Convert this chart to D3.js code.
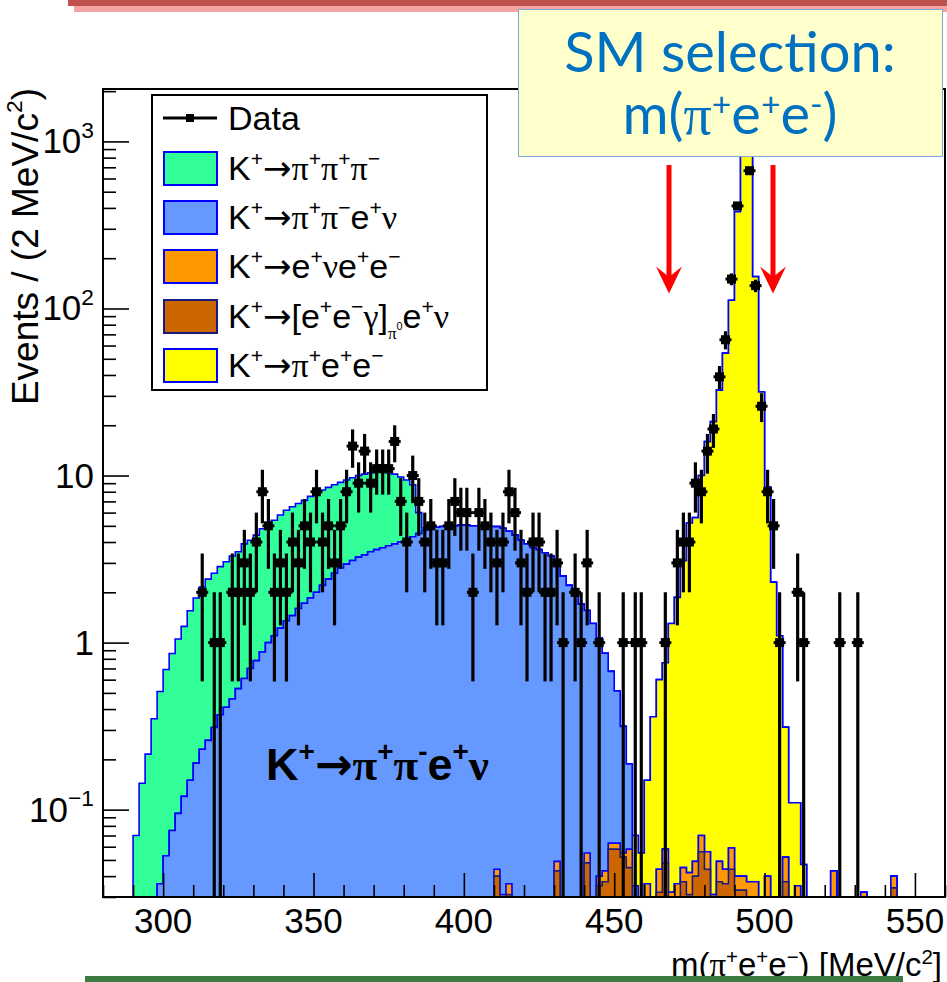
<!DOCTYPE html>
<html>
<head>
<meta charset="utf-8">
<script src="https://cdn.jsdelivr.net/npm/d3@7/dist/d3.min.js"></script>
<style>
html,body{margin:0;padding:0;background:#ffffff;}
svg{display:block;}
</style>
</head>
<body>
<svg id="chart" width="947" height="982" xmlns="http://www.w3.org/2000/svg"></svg>
<script>
// ------------------------------------------------------------------
// DATA  (140 bins of 2 MeV/c^2 from 280 to 560 MeV/c^2)
// ------------------------------------------------------------------
const binLowEdges = d3.range(280, 560, 2);

const dataCounts = [
  0,0,0,0,0,0,0,0,0,0,
  0,0,0,0,0,0,2,0,1,1,
  0,2,2,3,2,4,8,5,2,3,
  2,4,3,5,4,8,4,5,3,5,
  8,15,9,14,9,11,11,11,16,7,
  4,10,7,4,5,3,3,5,7,6,
  6,2,6,5,4,3,4,8,6,3,
  2,4,4,2,2,3,1,0,2,1,
  3,0,1,0,0,0,1,0,1,1,
  0,0,0,1,0,3,4,4,9,8,
  14,19,39,65,150,411,1500,668,137,26,
  8,5,1,0,0,2,1,0,0,0,
  0,0,1,0,0,1,0,0,0,0,
  0,0,0,0,0,0,0,0,0,0
];

// K+ -> pi+ pi+ pi-
const k3pi = [
  0,0,0,0,0,0.07,0.144,0.215,0.35,0.474,
  0.637,0.785,0.955,1.13,1.40,1.66,1.92,2.14,2.29,2.48,
  2.64,2.84,2.97,3.29,3.40,3.62,3.92,4.10,4.30,4.58,
  4.85,5.05,5.20,5.38,5.65,5.80,6.00,6.10,6.20,6.30,
  6.45,6.60,6.75,6.85,6.90,6.90,6.80,6.60,6.30,5.80,
  5.25,4.50,1.50,0.15,0,0,0,0,0,0,
  0,0,0,0,0,0,0,0,0,0,
  0,0,0,0,0,0,0,0,0,0,
  0,0,0,0,0,0,0,0,0,0,
  0,0,0,0,0,0,0,0,0,0,
  0,0,0,0,0,0,0,0,0,0,
  0,0,0,0,0,0,0,0,0,0,
  0,0,0,0,0,0,0,0,0,0,
  0,0,0,0,0,0,0,0,0,0
];

// K+ -> pi+ pi- e+ nu
const ke4 = [
  0,0,0,0,0,0,0,0,0,0.036,
  0.053,0.075,0.095,0.12,0.15,0.19,0.23,0.26,0.31,0.37,
  0.41,0.46,0.53,0.61,0.70,0.78,0.88,1.00,1.10,1.22,
  1.35,1.45,1.60,1.72,1.85,2.00,2.20,2.40,2.60,2.80,
  2.95,3.10,3.25,3.35,3.50,3.60,3.70,3.80,3.90,4.00,
  4.15,4.30,4.50,4.70,4.80,4.90,4.95,5.00,5.00,5.05,
  5.05,5.00,5.00,5.00,4.95,4.90,4.80,4.60,4.40,4.10,
  3.90,3.70,3.60,3.45,3.30,3.00,2.50,2.20,1.90,1.70,
  1.50,1.30,1.03,0.82,0.61,0.45,0.26,0.13,0.035,0,
  0,0,0,0,0,0,0,0,0,0,
  0,0,0,0,0,0,0,0,0,0,
  0,0,0,0,0,0,0,0,0,0,
  0,0,0,0,0,0,0,0,0,0,
  0,0,0,0,0,0,0,0,0,0
];

// K+ -> e+ nu e+ e-
const kenuee = [
  0,0,0,0,0,0,0,0,0,0,
  0,0,0,0,0,0,0,0,0,0,
  0,0,0,0,0,0,0,0,0,0,
  0,0,0,0,0,0,0,0,0,0,
  0,0,0,0,0,0,0,0,0,0,
  0,0,0,0,0,0,0,0,0,0,
  0,0,0,0,0,0.004,0.031,0.005,0,0,
  0,0,0,0,0,0.006,0,0,0,0,
  0.007,0,0.005,0.006,0.005,0.005,0.003,0.013,0,0,
  0.036,0,0.012,0.010,0.032,0.006,0.008,0.011,0.009,0.014,
  0.012,0.031,0.012,0.008,0.015,0.007,0.007,0.037,0.037,0,
  0.010,0,0,0.015,0,0.035,0,0,0,0,
  0,0.043,0,0,0,0,0.032,0,0,0,
  0,0.006,0,0,0,0,0,0,0,0
];

// K+ -> [e+ e- gamma]_pi0 e+ nu
const kpi0d = [
  0,0,0,0,0,0,0,0,0,0,
  0,0,0,0,0,0,0,0,0,0,
  0,0,0,0,0,0,0,0,0,0,
  0,0,0,0,0,0,0,0,0,0,
  0,0,0,0,0,0,0,0,0,0,
  0,0,0,0,0,0,0,0,0,0,
  0,0,0,0,0,0.040,0,0.031,0,0,
  0,0,0,0,0,0.043,0,0,0,0,
  0.048,0,0.035,0.037,0.058,0.058,0.052,0.045,0,0,
  0,0,0.032,0.048,0,0.030,0.037,0.031,0.040,0.056,
  0.044,0,0.037,0.036,0.044,0.033,0.033,0,0,0,
  0.030,0,0,0.037,0,0,0,0,0,0,
  0,0,0,0,0,0,0,0,0,0,
  0,0.034,0,0,0,0,0,0,0,0
];

// K+ -> pi+ e+ e-
const kpiee = [
  0,0,0,0,0,0,0,0,0,0,
  0,0,0,0,0,0,0,0,0,0,
  0,0,0,0,0,0,0,0,0,0,
  0,0,0,0,0,0,0,0,0,0,
  0,0,0,0,0,0,0,0,0,0,
  0,0,0,0,0,0,0,0,0,0,
  0,0,0,0,0,0,0,0,0,0,
  0,0,0,0,0,0,0,0,0,0,
  0,0,0,0,0,0,0,0,0.035,0.055,
  0.114,0.36,0.556,0.70,1.27,1.83,3.05,5.16,5.55,9.93,
  15.9,21.0,32.4,54.0,112,380,2500,1000,155,31.6,
  8.5,2.3,1.1,0.26,0.11,0.075,0.047,0,0,0,
  0,0,0,0,0,0,0,0,0,0,
  0,0,0,0,0,0,0,0,0,0
];

const xTickValues = [300, 350, 400, 450, 500, 550];
const yTickLabels = [
  {v: 0.1,  base: "10", exp: "\u22121"},
  {v: 1,    base: "1",  exp: ""},
  {v: 10,   base: "10", exp: ""},
  {v: 100,  base: "10", exp: "2"},
  {v: 1000, base: "10", exp: "3"}
];

// ------------------------------------------------------------------
// LAYOUT / SCALES
// ------------------------------------------------------------------
const svg = d3.select("#chart");
const L = 103, R = 945, T = 89, B = 897;
const x = d3.scaleLinear().domain([280, 560]).range([L, R]);
const y = d3.scaleLog().domain([0.03, 2060]).range([B, T]);
const yMinV = 0.03;

const SANS = "'Liberation Sans', Arimo, Helvetica, Arial, sans-serif";
const SERIF = "'Liberation Serif', 'DejaVu Serif', Times, serif";
const ARROWF = "'DejaVu Sans', sans-serif";

svg.append("defs").append("clipPath").attr("id", "plotclip")
  .append("rect").attr("x", L).attr("y", T).attr("width", R - L).attr("height", B - T);

// ------------------------------------------------------------------
// STACKED HISTOGRAMS  (bottom->top: kpi0d, kenuee, ke4, kpiee, k3pi)
// ------------------------------------------------------------------
const layers = [
  {vals: kpi0d,  fill: "#cc6600", stroke: "#1a1a80"},
  {vals: kenuee, fill: "#ff9900", stroke: "#0000ff"},
  {vals: ke4,    fill: "#6699ff", stroke: "#0000ff"},
  {vals: kpiee,  fill: "#ffff00", stroke: "#0000ff"},
  {vals: k3pi,   fill: "#33ff99", stroke: "#0000ff"}
];
let running = binLowEdges.map(() => 0);
layers.forEach(l => {
  running = running.map((r, i) => r + l.vals[i]);
  l.cum = running.slice();
});

function stepPath(cum) {
  const p = d3.path();
  p.moveTo(x(280), B);
  cum.forEach((v, i) => {
    const x0 = x(binLowEdges[i]), x1 = x(binLowEdges[i] + 2);
    const yy = v > yMinV ? Math.max(T - 5, y(v)) : B;
    p.lineTo(x0, yy);
    p.lineTo(x1, yy);
  });
  p.lineTo(x(560), B);
  p.closePath();
  return p.toString();
}

const hg = svg.append("g").attr("clip-path", "url(#plotclip)");
layers.slice().reverse().forEach(l => {
  hg.append("path")
    .attr("d", stepPath(l.cum))
    .attr("fill", l.fill)
    .attr("stroke", l.stroke)
    .attr("stroke-width", 1.6);
});

// ------------------------------------------------------------------
// DATA POINTS
// ------------------------------------------------------------------
const dg = svg.append("g").attr("clip-path", "url(#plotclip)");
dataCounts.forEach((n, i) => {
  if (n <= 0) return;
  const cx = x(binLowEdges[i] + 1);
  const e = Math.sqrt(n);
  const yHi = y(n + e);
  const yLo = (n - e) > yMinV ? y(n - e) : B + 2;
  dg.append("line").attr("x1", cx).attr("x2", cx).attr("y1", yHi).attr("y2", yLo)
    .attr("stroke", "#000").attr("stroke-width", 3.2);
  dg.append("line").attr("x1", cx - 6).attr("x2", cx + 6).attr("y1", y(n)).attr("y2", y(n))
    .attr("stroke", "#000").attr("stroke-width", 3);
  dg.append("rect").attr("x", cx - 4.5).attr("y", y(n) - 4.5).attr("width", 9).attr("height", 9)
    .attr("fill", "#000");
});

// ------------------------------------------------------------------
// AXES (ticks inside the frame, ROOT style)
// ------------------------------------------------------------------
const xMinor = d3.range(280, 561, 10).filter(v => xTickValues.indexOf(v) < 0);
function styleTicks(g) {
  g.select(".domain").remove();
  g.selectAll("line").attr("stroke", "#000").attr("stroke-width", 1.6);
}
svg.append("g").attr("transform", `translate(0,${B})`)
  .call(d3.axisBottom(x).tickValues(xTickValues).tickSize(-24).tickFormat(""))
  .call(styleTicks);
svg.append("g").attr("transform", `translate(0,${B})`)
  .call(d3.axisBottom(x).tickValues(xMinor).tickSize(-12).tickFormat(""))
  .call(styleTicks);

const yMajor = yTickLabels.map(d => d.v);
const yMinor = [];
[0.01, 0.1, 1, 10, 100, 1000].forEach(dec => {
  for (let k = 2; k <= 9; k++) {
    const v = dec * k;
    if (v >= 0.03 && v <= 2060) yMinor.push(v);
  }
});
svg.append("g").attr("transform", `translate(${L},0)`)
  .call(d3.axisLeft(y).tickValues(yMajor).tickSize(-26).tickFormat(""))
  .call(styleTicks);
svg.append("g").attr("transform", `translate(${L},0)`)
  .call(d3.axisLeft(y).tickValues(yMinor).tickSize(-13).tickFormat(""))
  .call(styleTicks);

// frame
svg.append("rect").attr("x", L).attr("y", T).attr("width", R - L).attr("height", B - T)
  .attr("fill", "none").attr("stroke", "#000").attr("stroke-width", 2);

// ------------------------------------------------------------------
// RICH TEXT HELPER (superscripts / subscripts, greek in serif)
// ------------------------------------------------------------------
function rich(parent, px, py, segs, o) {
  const fs = o.size;
  const t = parent.append("text").attr("x", px).attr("y", py)
    .attr("font-family", o.family || SANS).attr("font-size", fs)
    .attr("fill", o.fill || "#000").attr("font-weight", o.weight || "normal")
    .attr("text-anchor", o.anchor || "start");
  if (o.transform) t.attr("transform", o.transform);
  let shift = 0;
  segs.forEach(s => {
    const ts = t.append("tspan").text(s.t);
    let target = 0, size = fs;
    if (s.sup) { target = -(o.supRise || 0.42) * fs; size = fs * (o.supScale || 0.62); }
    if (s.sub) { target = (o.subDrop || 0.32) * fs; size = fs * (o.subScale || 0.5); }
    if (s.subsup) { target = (o.subDrop || 0.32) * fs - 0.25 * fs; size = fs * 0.32; }
    ts.attr("dy", target - shift).attr("font-size", size);
    shift = target;
    if (s.g) ts.attr("font-family", o.greek || SERIF);
    if (s.arrow) ts.attr("font-family", ARROWF);
  });
  return t;
}

// tick labels
xTickValues.forEach(v => {
  svg.append("text").attr("x", x(v)).attr("y", 933).attr("text-anchor", "middle")
    .attr("font-family", SANS).attr("font-size", 35).attr("fill", "#000").text(v);
});
yTickLabels.forEach(d => {
  const segs = [{t: d.base}];
  if (d.exp) segs.push({t: d.exp, sup: true});
  rich(svg, 94, y(d.v) + 12, segs, {size: 35, anchor: "end", supScale: 0.65, supRise: 0.45});
});

// axis titles
rich(svg, 942, 976, [
  {t: "m("}, {t: "\u03c0", g: true}, {t: "+", sup: true}, {t: "e"}, {t: "+", sup: true},
  {t: "e"}, {t: "\u2212", sup: true}, {t: ") [MeV/c"}, {t: "2", sup: true}, {t: "]"}
], {size: 33, anchor: "end", supRise: 0.36});

rich(svg, 38, 88, [
  {t: "Events / (2 MeV/c"}, {t: "2", sup: true}, {t: ")"}
], {size: 37, anchor: "end", transform: "rotate(-90,38,88)"});

// ------------------------------------------------------------------
// LEGEND
// ------------------------------------------------------------------
const lg = svg.append("g");
lg.append("rect").attr("x", 152).attr("y", 95).attr("width", 335).attr("height", 295)
  .attr("fill", "#fff").attr("stroke", "#000").attr("stroke-width", 2);
const legendRowsY = [118, 168, 217, 266, 316, 365];
lg.append("line").attr("x1", 163).attr("x2", 217).attr("y1", legendRowsY[0]).attr("y2", legendRowsY[0])
  .attr("stroke", "#000").attr("stroke-width", 3);
lg.append("rect").attr("x", 186).attr("y", legendRowsY[0] - 4).attr("width", 8).attr("height", 8).attr("fill", "#000");
rich(lg, 228, legendRowsY[0] + 12, [{t: "Data"}], {size: 34});

const AR = {t: "\u2192", arrow: true};
const legendEntries = [
  {fill: "#33ff99", stroke: "#0000ff", segs: [{t: "K"}, {t: "+", sup: true}, AR, {t: "\u03c0", g: true}, {t: "+", sup: true}, {t: "\u03c0", g: true}, {t: "+", sup: true}, {t: "\u03c0", g: true}, {t: "\u2212", sup: true}]},
  {fill: "#6699ff", stroke: "#0000ff", segs: [{t: "K"}, {t: "+", sup: true}, AR, {t: "\u03c0", g: true}, {t: "+", sup: true}, {t: "\u03c0", g: true}, {t: "\u2212", sup: true}, {t: "e"}, {t: "+", sup: true}, {t: "\u03bd", g: true}]},
  {fill: "#ff9900", stroke: "#0000ff", segs: [{t: "K"}, {t: "+", sup: true}, AR, {t: "e"}, {t: "+", sup: true}, {t: "\u03bd", g: true}, {t: "e"}, {t: "+", sup: true}, {t: "e"}, {t: "\u2212", sup: true}]},
  {fill: "#cc6600", stroke: "#1a1a80", segs: [{t: "K"}, {t: "+", sup: true}, AR, {t: "[e"}, {t: "+", sup: true}, {t: "e"}, {t: "\u2212", sup: true}, {t: "\u03b3", g: true}, {t: "]"}, {t: "\u03c0", sub: true, g: true}, {t: "0", subsup: true}, {t: "e"}, {t: "+", sup: true}, {t: "\u03bd", g: true}]},
  {fill: "#ffff00", stroke: "#0000ff", segs: [{t: "K"}, {t: "+", sup: true}, AR, {t: "\u03c0", g: true}, {t: "+", sup: true}, {t: "e"}, {t: "+", sup: true}, {t: "e"}, {t: "\u2212", sup: true}]}
];
legendEntries.forEach((e, k) => {
  const cy = legendRowsY[k + 1];
  lg.append("rect").attr("x", 164).attr("y", cy - 16).attr("width", 53).attr("height", 33)
    .attr("fill", e.fill).attr("stroke", e.stroke).attr("stroke-width", 2);
  rich(lg, 228, cy + 12, e.segs, {size: 34});
});

// in-plot annotation
rich(svg, 266, 780, [
  {t: "K"}, {t: "+", sup: true}, {t: "\u2192", arrow: true}, {t: "\u03c0", g: true}, {t: "+", sup: true},
  {t: "\u03c0", g: true}, {t: "-", sup: true}, {t: "e"}, {t: "+", sup: true}, {t: "\u03bd", g: true}
], {size: 45, weight: "bold"});

// ------------------------------------------------------------------
// SLIDE DECORATIONS
// ------------------------------------------------------------------
svg.append("rect").attr("x", 74).attr("y", 6).attr("width", 873).attr("height", 6).attr("fill", "#f4a3a3");
svg.append("rect").attr("x", 68).attr("y", 0).attr("width", 879).attr("height", 6).attr("fill", "#c0504d");
svg.append("rect").attr("x", 85).attr("y", 976).attr("width", 818).attr("height", 6).attr("fill", "#3c7a43");

// SM selection box
const BOX_FONT = "Lato, 'Open Sans', 'DejaVu Sans', sans-serif";
svg.append("rect").attr("x", 518.5).attr("y", 9.5).attr("width", 424).attr("height", 147)
  .attr("fill", "#ffffcc").attr("stroke", "#7fa7d8").attr("stroke-width", 1);
svg.append("text").attr("x", 730).attr("y", 72).attr("text-anchor", "middle")
  .attr("font-family", BOX_FONT).attr("font-size", 56).attr("fill", "#0070c0").text("SM selection:");
rich(svg, 730, 134, [
  {t: "m("}, {t: "\u03c0", g: true}, {t: "+", sup: true}, {t: "e"}, {t: "+", sup: true},
  {t: "e"}, {t: "-", sup: true}, {t: ")"}
], {size: 56, anchor: "middle", family: BOX_FONT, fill: "#0070c0", supScale: 0.6, supRise: 0.33});

// red arrows (selection window)
function arrow(cx) {
  svg.append("line").attr("x1", cx).attr("x2", cx).attr("y1", 165).attr("y2", 280)
    .attr("stroke", "#ff0000").attr("stroke-width", 5);
  svg.append("path")
    .attr("d", `M${cx - 13},266.5 L${cx},293.5 L${cx + 13},266.5 L${cx},277 Z`)
    .attr("fill", "#ff0000");
}
arrow(669);
arrow(773);
</script>
</body>
</html>
